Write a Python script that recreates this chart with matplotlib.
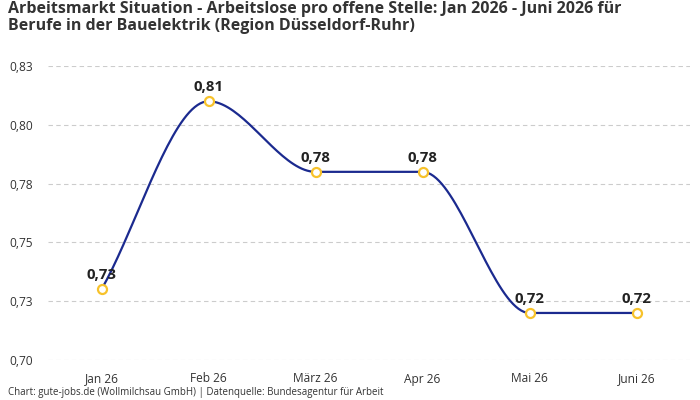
import numpy as np
import matplotlib
matplotlib.use("Agg")
import matplotlib.pyplot as plt
from decimal import Decimal, ROUND_HALF_UP

# data
months = ["Jan 26", "Feb 26", "März 26", "Apr 26", "Mai 26", "Juni 26"]
values = [0.73, 0.81, 0.78, 0.78, 0.72, 0.72]
y_ticks = [0.70, 0.725, 0.75, 0.775, 0.80, 0.825]

line_color = "#1b2a8f"
marker_color = "#f7c22b"

plt.rcParams["font.family"] = ["Open Sans", "DejaVu Sans"]


def fmt(v):
    # two decimals, half up, German comma
    s = Decimal(str(v)).quantize(Decimal("0.01"), rounding=ROUND_HALF_UP)
    return str(s).replace(".", ",")


def monotone_curve(x, y, n=40):
    # monotone cubic (Fritsch-Carlson) used only to draw the smooth line
    x = np.asarray(x, float)
    y = np.asarray(y, float)
    h = np.diff(x)
    d = np.diff(y) / h
    m = np.zeros_like(y)
    m[0], m[-1] = d[0], d[-1]
    for i in range(1, len(y) - 1):
        if d[i - 1] * d[i] <= 0:
            m[i] = 0
        else:
            m[i] = (d[i - 1] + d[i]) / 2
    for i in range(len(d)):
        if d[i] == 0:
            m[i] = m[i + 1] = 0
            continue
        a, b = m[i] / d[i], m[i + 1] / d[i]
        s = a * a + b * b
        if s > 9:
            t = 3 / np.sqrt(s)
            m[i], m[i + 1] = t * a * d[i], t * b * d[i]
    xs, ys = [], []
    for i in range(len(d)):
        t = np.linspace(0, 1, n)
        h00 = 2 * t**3 - 3 * t**2 + 1
        h10 = t**3 - 2 * t**2 + t
        h01 = -2 * t**3 + 3 * t**2
        h11 = t**3 - t**2
        xs.append(x[i] + t * h[i])
        ys.append(h00 * y[i] + h10 * h[i] * m[i] + h01 * y[i + 1] + h11 * h[i] * m[i + 1])
    return np.concatenate(xs), np.concatenate(ys)


fig = plt.figure(figsize=(7, 4), dpi=100)
ax = fig.add_axes([48 / 700, 40 / 400, 642 / 700, 294 / 400])

x = np.arange(len(months))
cx, cy = monotone_curve(x, values)
ax.plot(cx, cy, color=line_color, lw=1.6, zorder=3, clip_on=False)
ax.plot(x, values, "o", ms=6.5, mfc="white", mec=marker_color, mew=1.6, zorder=4, clip_on=False)

for xi, v in zip(x, values):
    ax.annotate(fmt(v), (xi, v), xytext=(0, 5),
                textcoords="offset points", ha="center", va="bottom",
                fontsize=10.8, fontweight="bold", color="#222222", zorder=5)

ax.set_xlim(-0.5, len(months) - 0.5)
ax.set_ylim(0.70, 0.825)
ax.set_xticks(x)
ax.set_xticklabels(months, va="top")
ax.set_yticks(y_ticks)
ax.set_yticklabels([fmt(t) for t in y_ticks])
ax.tick_params(length=0, labelsize=8.6, colors="#333333")
ax.tick_params(axis="y", pad=11)
ax.tick_params(axis="x", pad=9)
ax.grid(axis="y", color="#cccccc", linestyle=(0, (4, 3)), lw=0.8)
ax.set_axisbelow(True)
for s in ax.spines.values():
    s.set_visible(False)

fig.text(8 / 700, 1 - 1 / 400,
         "Arbeitsmarkt Situation - Arbeitslose pro offene Stelle: Jan 2026 - Juni 2026 für\n"
         "Berufe in der Bauelektrik (Region Düsseldorf-Ruhr)",
         ha="left", va="top", fontsize=11.5, fontweight="bold", color="#333333",
         linespacing=1.12)
fig.text(8 / 700, 1 - 393 / 400,
         "Chart: gute-jobs.de (Wollmilchsau GmbH) | Datenquelle: Bundesagentur für Arbeit",
         ha="left", va="center", fontsize=7, color="#333333")

fig.savefig("out.png", dpi=100)
